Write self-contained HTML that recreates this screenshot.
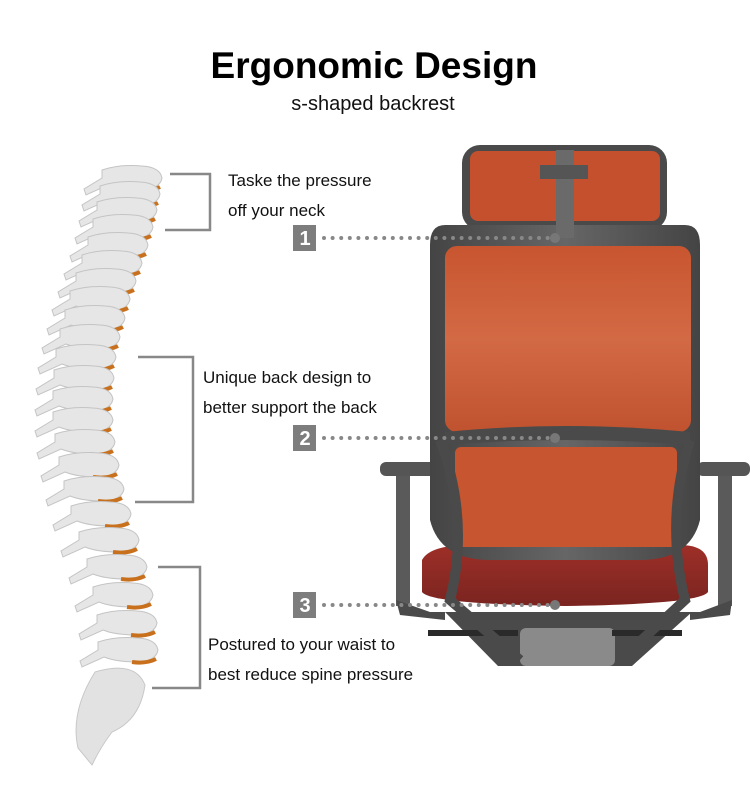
<!DOCTYPE html>
<html><head><meta charset="utf-8"><style>
html,body{margin:0;padding:0;background:#fff;width:750px;height:800px;overflow:hidden}
svg{display:block}
text{font-family:"Liberation Sans",Arial,sans-serif}
</style></head><body>
<svg width="750" height="800" viewBox="0 0 750 800" xmlns="http://www.w3.org/2000/svg">
<defs>
<linearGradient id="mesh" x1="0" y1="0" x2="0" y2="1"><stop offset="0" stop-color="#c8552f"/><stop offset="0.5" stop-color="#d26a45"/><stop offset="1" stop-color="#c0522f"/></linearGradient>
<linearGradient id="seat" x1="0" y1="0" x2="0" y2="1"><stop offset="0" stop-color="#9e2f28"/><stop offset="1" stop-color="#7a2420"/></linearGradient>
<linearGradient id="frame" x1="0" y1="0" x2="1" y2="0"><stop offset="0" stop-color="#444"/><stop offset="0.5" stop-color="#666"/><stop offset="1" stop-color="#444"/></linearGradient>
<g id="vb"><path d="M-40,-8 Q-22,-14 0,-12 Q18,-11 20,0 Q18,11 0,12 Q-22,12 -34,7 L-56,17 L-58,11 L-40,0 Z" fill="#e6e6e6" stroke="#c4c4c4" stroke-width="1"/><path d="M-6,12 Q8,14 18,9" stroke="#c8701c" stroke-width="4" fill="none"/></g>
</defs>
<text x="374" y="78" font-size="37" font-weight="bold" text-anchor="middle" fill="#000">Ergonomic Design</text>
<text x="373" y="110" font-size="20" text-anchor="middle" fill="#111">s-shaped backrest</text>

<!-- spine -->
<g>
<use href="#vb" x="142" y="178"/><use href="#vb" x="140" y="194"/><use href="#vb" x="137" y="210"/>
<use href="#vb" x="133" y="227"/><use href="#vb" x="128" y="245"/><use href="#vb" x="122" y="263"/>
<use href="#vb" x="116" y="281"/><use href="#vb" x="110" y="299"/><use href="#vb" x="105" y="318"/>
<use href="#vb" x="100" y="337"/><use href="#vb" x="96" y="357"/><use href="#vb" x="94" y="378"/>
<use href="#vb" x="93" y="399"/><use href="#vb" x="93" y="420"/><use href="#vb" x="95" y="442"/>
<use href="#vb" x="99" y="465"/><use href="#vb" x="104" y="489"/><use href="#vb" x="111" y="514"/>
<use href="#vb" x="119" y="540"/><use href="#vb" x="127" y="567"/><use href="#vb" x="133" y="595"/>
<use href="#vb" x="137" y="623"/><use href="#vb" x="138" y="650"/>
<path d="M95,672 Q135,660 145,685 Q140,720 112,732 Q100,748 92,765 L78,748 Q70,712 95,672Z" fill="#e2e2e2" stroke="#c8c8c8"/>
</g>

<!-- brackets -->
<g stroke="#888" stroke-width="2.5" fill="none">
<path d="M170,174 H210 V230 H165"/>
<path d="M138,357 H193 V502 H135"/>
<path d="M158,567 H200 V688 H152"/>
</g>

<g font-size="17" fill="#111">
<text x="228" y="186">Taske the pressure</text>
<text x="228" y="216">off your neck</text>
<text x="203" y="383">Unique back design to</text>
<text x="203" y="413">better support the back</text>
<text x="208" y="650">Postured to your waist to</text>
<text x="208" y="680">best reduce spine pressure</text>
</g>

<!-- chair -->
<g>
<path d="M445,612 H692 L632,666 H498 Z" fill="#4a4a4a"/>
<rect x="520" y="628" width="95" height="38" rx="6" fill="#8a8a8a"/>
<rect x="428" y="630" width="90" height="6" fill="#2a2a2a"/>
<rect x="612" y="630" width="70" height="6" fill="#2a2a2a"/>
<rect x="380" y="462" width="58" height="14" rx="6" fill="#555"/>
<rect x="396" y="476" width="14" height="130" fill="#5a5a5a"/>
<path d="M396,600 L430,612 H445 V620 L400,615Z" fill="#4a4a4a"/>
<rect x="697" y="462" width="53" height="14" rx="6" fill="#555"/>
<rect x="718" y="476" width="14" height="130" fill="#5a5a5a"/>
<path d="M732,600 L700,612 H690 V620 L730,615Z" fill="#4a4a4a"/>
<path d="M422,560 Q430,545 470,545 H680 Q708,545 708,565 V592 Q700,604 565,606 Q430,604 422,592Z" fill="url(#seat)"/>
<rect x="462" y="145" width="205" height="85" rx="18" fill="#4a4a4a"/>
<rect x="470" y="151" width="190" height="70" rx="8" fill="#c4502e"/>
<path d="M445,225 H685 Q700,225 700,245 V520 Q690,560 640,560 H490 Q440,560 430,520 V245 Q430,225 445,225Z" fill="url(#frame)"/>
<rect x="445" y="246" width="246" height="186" rx="12" fill="url(#mesh)"/>
<rect x="455" y="447" width="222" height="100" rx="6" fill="#c65530"/>
<path d="M445,432 Q565,420 690,432 L690,445 Q565,435 445,445Z" fill="#4a4a4a"/>
<path d="M440,440 Q470,520 450,600 L520,660" stroke="#4a4a4a" stroke-width="10" fill="none"/>
<path d="M690,440 Q665,520 685,600 L620,660" stroke="#4a4a4a" stroke-width="10" fill="none"/>
<rect x="556" y="150" width="18" height="88" fill="#6a6a6a"/>
<rect x="540" y="165" width="48" height="14" fill="#555"/>
</g>

<!-- markers -->
<g fill="#7d7d7d">
<rect x="293" y="225" width="23" height="26"/>
<rect x="293" y="425" width="23" height="26"/>
<rect x="293" y="592" width="23" height="26"/>
</g>
<g font-size="20" font-weight="bold" fill="#fff" text-anchor="middle">
<text x="305" y="245">1</text><text x="305" y="445">2</text><text x="305" y="612">3</text>
</g>
<g stroke="#888" stroke-width="4" stroke-linecap="round" stroke-dasharray="0 8.6" fill="none">
<line x1="324" y1="238" x2="550" y2="238"/>
<line x1="324" y1="438" x2="550" y2="438"/>
<line x1="324" y1="605" x2="550" y2="605"/>
</g>
<g fill="#777"><circle cx="555" cy="238" r="5"/><circle cx="555" cy="438" r="5"/><circle cx="555" cy="605" r="5"/></g>
</svg>
</body></html>
